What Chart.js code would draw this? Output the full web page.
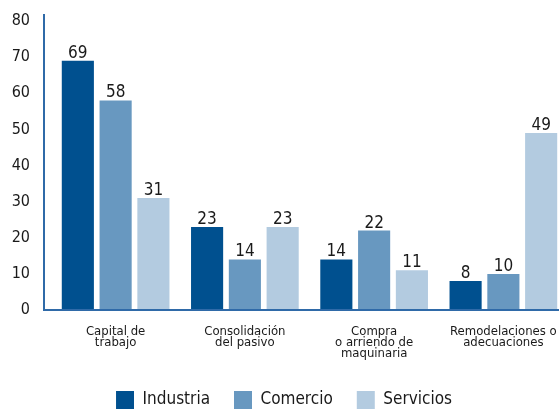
<!DOCTYPE html>
<html>
<head>
<meta charset="utf-8">
<script src="https://cdn.jsdelivr.net/npm/chart.js@4/dist/chart.umd.min.js"></script>
<style>
  html, body { margin: 0; padding: 0; overflow: hidden; background: #ffffff; }
  #wrap { position: relative; width: 559px; height: 410px; overflow: hidden; }
  canvas { display: block; }
</style>
</head>
<body>
<div id="wrap"><canvas id="chart" width="568" height="419"></canvas></div>
<script>
// Categories (multi-line axis labels)
const categories = [
  ["Capital de", "trabajo"],
  ["Consolidación", "del pasivo"],
  ["Compra", "o arriendo de", "maquinaria"],
  ["Remodelaciones o", "adecuaciones"]
];

// Series values
const industria = [69, 23, 14, 8];
const comercio  = [58, 14, 22, 10];
const servicios = [31, 23, 11, 49];

// Series names
const seriesNames = ["Industria", "Comercio", "Servicios"];

// Y axis tick range
const yMin = 0;
const yMax = 80;
const yStep = 10;

// Styling
const FONT = "'DejaVu Sans Condensed', 'DejaVu Sans', sans-serif";
const TEXT = '#1a1a1a';
const AXIS = '#2f6aa8';
const palette = ['#00508f', '#6898c0', '#b3cbe0'];

// Value printed above every bar
const valueLabels = {
  id: 'valueLabels',
  afterDatasetsDraw(chart) {
    const { ctx } = chart;
    ctx.save();
    ctx.font = `17px ${FONT}`;
    ctx.fillStyle = TEXT;
    ctx.textAlign = 'center';
    ctx.textBaseline = 'alphabetic';
    chart.data.datasets.forEach((ds, i) => {
      chart.getDatasetMeta(i).data.forEach((bar, j) => {
        ctx.fillText(String(ds.data[j]), bar.x, bar.y - 3);
      });
    });
    ctx.restore();
  }
};

// Axis lines: vertical line sits a little left of the first category
const axisLines = {
  id: 'axisLines',
  afterDatasetsDraw(chart) {
    const { ctx, chartArea, scales: { y } } = chart;
    const x0 = chartArea.left - 7;
    const y0 = y.getPixelForValue(yMin);
    const yTop = y.getPixelForValue(yMax) - 7;
    ctx.save();
    ctx.strokeStyle = AXIS;
    ctx.lineWidth = 2;
    ctx.beginPath();
    ctx.moveTo(x0, yTop);
    ctx.lineTo(x0, y0);
    ctx.lineTo(chart.width, y0);
    ctx.stroke();
    ctx.restore();
  }
};

const seriesValues = [industria, comercio, servicios];

new Chart(document.getElementById('chart'), {
  type: 'bar',
  data: {
    labels: categories,
    datasets: seriesNames.map((name, i) => ({
      label: name,
      data: seriesValues[i],
      backgroundColor: palette[i],
      borderWidth: 0,
      categoryPercentage: 0.877,
      barPercentage: 0.85
    }))
  },
  options: {
    responsive: false,
    animation: false,
    layout: { padding: { top: 21, left: 0, right: 0, bottom: 0 } },
    plugins: {
      tooltip: { enabled: false },
      legend: {
        position: 'bottom',
        labels: {
          boxWidth: 18,
          boxHeight: 18,
          padding: 24,
          color: TEXT,
          font: { family: FONT, size: 17 }
        }
      }
    },
    scales: {
      x: {
        grid: { display: false, drawTicks: true, tickLength: 16 },
        border: { display: false },
        ticks: {
          color: TEXT,
          font: { family: FONT, size: 13, lineHeight: 0.85 },
          padding: 0,
          maxRotation: 0,
          autoSkip: false
        },
        afterFit(scale) { scale.height = 57; }
      },
      y: {
        min: yMin,
        max: yMax,
        grid: { display: false, drawTicks: true, tickLength: 21 },
        border: { display: false },
        ticks: {
          stepSize: yStep,
          color: TEXT,
          font: { family: FONT, size: 16 },
          padding: 0
        },
        afterFit(scale) { scale.width = 51; }
      }
    }
  },
  plugins: [axisLines, valueLabels]
});
</script>
</body>
</html>
